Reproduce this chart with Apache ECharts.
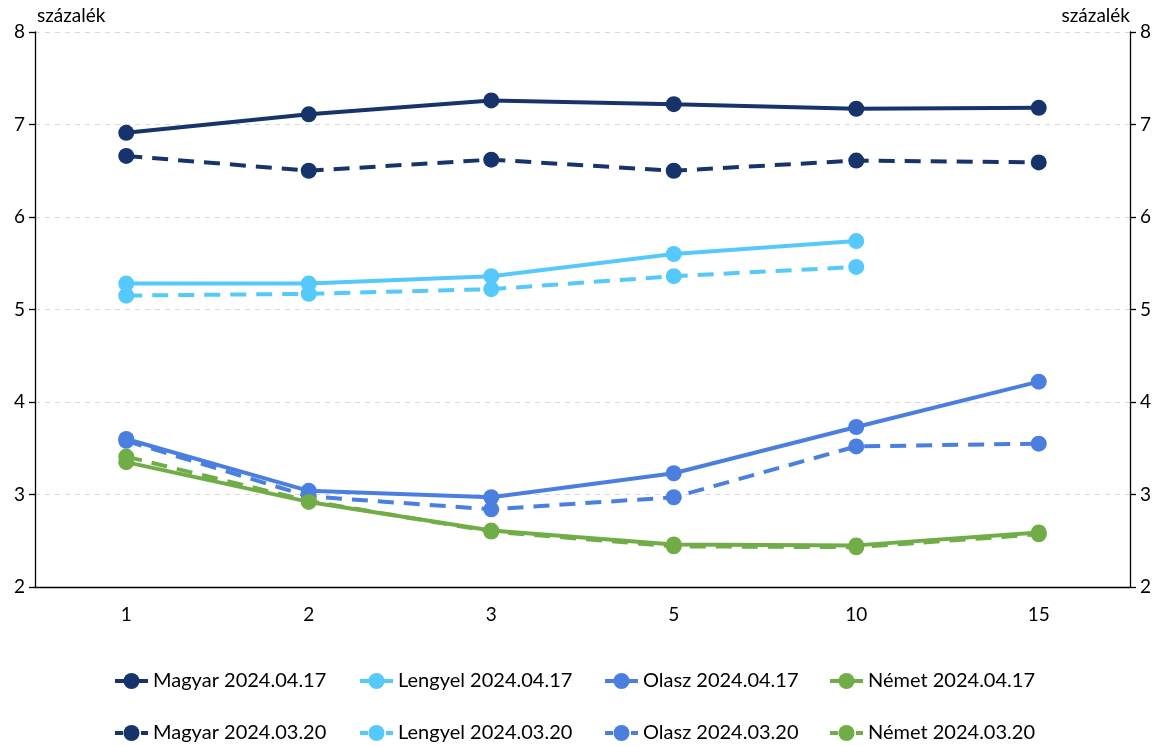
<!DOCTYPE html>
<html>
<head>
<meta charset="utf-8">
<script src="https://cdn.jsdelivr.net/npm/echarts@6/dist/echarts.min.js"></script>
<style>html,body{margin:0;padding:0;background:#fff;}#c{width:1158px;height:746px;}</style>
</head>
<body>
<div id="c"></div>
<script>
const categories = ['1', '2', '3', '5', '10', '15'];
const magyarApr = [6.91, 7.11, 7.26, 7.22, 7.17, 7.18];
const magyarMar = [6.66, 6.50, 6.62, 6.50, 6.61, 6.59];
const lengyelApr = [5.28, 5.28, 5.36, 5.60, 5.74, null];
const lengyelMar = [5.15, 5.17, 5.22, 5.36, 5.46, null];
const olaszApr = [3.60, 3.04, 2.97, 3.23, 3.73, 4.22];
const olaszMar = [3.58, 2.98, 2.84, 2.97, 3.52, 3.55];
const nemetApr = [3.35, 2.92, 2.61, 2.46, 2.45, 2.59];
const nemetMar = [3.41, 2.93, 2.60, 2.44, 2.43, 2.57];
const yTicks = [2, 3, 4, 5, 6, 7, 8];

const FONT = 'Lato';
const C = { magyar: '#16346b', lengyel: '#55c9fb', olasz: '#4a7fe0', nemet: '#70ad47' };

function mk(name, data, color, dashed) {
  return {
    name: name, type: 'line', data: data,
    symbol: 'circle', symbolSize: 16,
    itemStyle: { color: color },
    lineStyle: { color: color, width: 4, type: dashed ? [16, 10] : 'solid' },
    emphasis: { disabled: true },
    z: dashed ? 2 : 3
  };
}
const series = [
  mk('Magyar 2024.04.17', magyarApr, C.magyar, false),
  mk('Lengyel 2024.04.17', lengyelApr, C.lengyel, false),
  mk('Olasz 2024.04.17', olaszApr, C.olasz, false),
  mk('Német 2024.04.17', nemetApr, C.nemet, false),
  mk('Magyar 2024.03.20', magyarMar, C.magyar, true),
  mk('Lengyel 2024.03.20', lengyelMar, C.lengyel, true),
  mk('Olasz 2024.03.20', olaszMar, C.olasz, true),
  mk('Német 2024.03.20', nemetMar, C.nemet, true)
];

const lefts = [113, 358, 603, 828];
const legends = series.map((s, i) => ({
  data: [s.name],
  left: lefts[i % 4],
  top: i < 4 ? 671 : 723,
  padding: 0,
  itemWidth: 33, itemHeight: 20, itemGap: 0,
  lineStyle: { width: 4, type: i < 4 ? 'solid' : [8, 5] },
  textStyle: { fontFamily: FONT, fontSize: 20, color: '#000' },
  selectedMode: false
}));

const yAxisBase = {
  type: 'value', min: 2, max: 8, interval: 1,
  axisLine: { show: true, lineStyle: { color: '#000', width: 1.3 } },
  axisTick: { show: true, length: 6, lineStyle: { color: '#000', width: 1.3 } },
  axisLabel: { fontFamily: FONT, fontSize: 19, color: '#000', margin: 10 },
  splitLine: { show: false }
};

const option = {
  animation: false,
  backgroundColor: '#fff',
  grid: { left: 35, right: 28, top: 32, bottom: 159 },
  xAxis: {
    type: 'category', data: categories, boundaryGap: true,
    axisLine: { lineStyle: { color: '#000', width: 1.3 } },
    axisTick: { alignWithLabel: true, length: 6, lineStyle: { color: '#000', width: 1.3 } },
    axisLabel: { fontFamily: FONT, fontSize: 19, color: '#000', margin: 18 }
  },
  yAxis: [
    Object.assign({}, yAxisBase, {
      position: 'left',
      splitLine: { show: true, lineStyle: { color: '#d9d9d9', type: [5, 5], width: 1 } }
    }),
    Object.assign({}, yAxisBase, { position: 'right' })
  ],
  legend: legends,
  graphic: [
    { type: 'text', left: 37, top: 6, style: { text: 'százalék', fontFamily: FONT, fontSize: 19, fill: '#000' } },
    { type: 'text', right: 28, top: 6, style: { text: 'százalék', fontFamily: FONT, fontSize: 19, fill: '#000' } }
  ],
  series: series
};

const chart = echarts.init(document.getElementById('c'), null, { renderer: 'canvas' });
chart.setOption(option);
</script>
</body>
</html>
